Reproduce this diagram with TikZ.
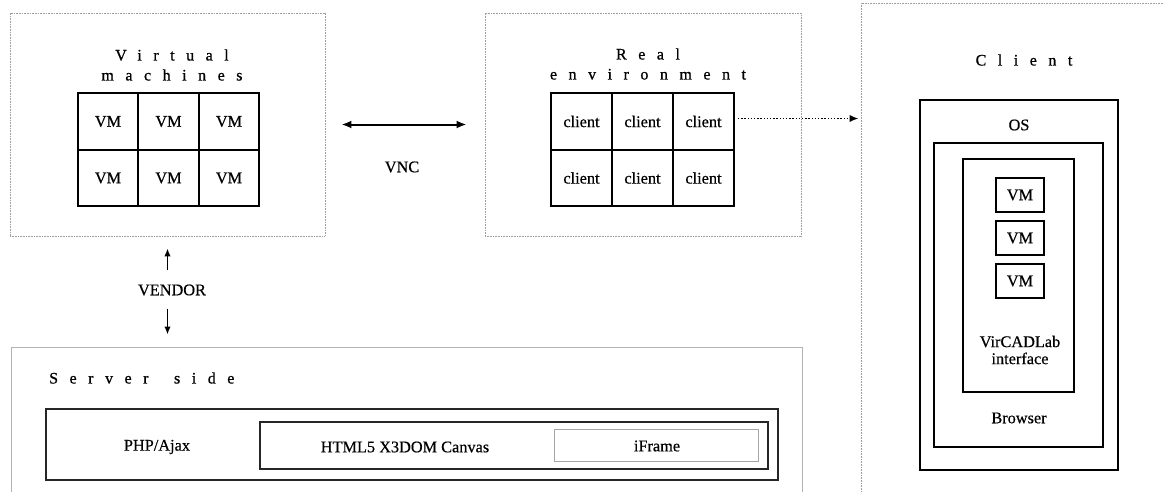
\documentclass[tikz,border=0pt]{standalone}
\usepackage{fontspec}
\setmainfont[FakeBold=0.5]{Liberation Serif}
\newfontfamily\spaced[LetterSpace=72,FakeBold=0.8]{Liberation Serif}
\usetikzlibrary{arrows.meta}
\begin{document}
\begin{tikzpicture}[x=1pt,y=-1pt,
  every node/.style={font=\fontsize{16.3}{19}\selectfont, text=black},
  group/.style={draw=gray!75, line width=0.9pt, dash pattern=on 1pt off 0.6pt, inner sep=0pt},
  cell/.style={draw=black, line width=2pt, inner sep=0pt, minimum width=#1, minimum height=56.5pt},
  cell/.default=60.5pt,
  frame/.style={draw=black, line width=2pt, inner sep=0pt},
  thinframe/.style={draw=black, line width=1.3pt, inner sep=0pt},
  graybox/.style={draw=gray!60, line width=1pt, inner sep=0pt},
  title/.style={font=\fontsize{16}{20}\selectfont\spaced, align=center, inner sep=0pt},
  plain/.style={inner sep=1pt},
  link/.style={line width=2pt, {Latex[length=10pt,width=8pt]}-{Latex[length=10pt,width=8pt]}},
  uparrow/.style={line width=1.5pt, -{Latex[length=8pt,width=6.5pt]}}
]
\useasboundingbox (0,0) rectangle (1163,491);
\clip (0,0) rectangle (1163,491);

% ---- Virtual machines ----
\node[group, minimum width=315pt, minimum height=223pt] (vmbox) at (167.5,124.5) {};
\node[title] (vmtitle) at (172,65) {Virtual\\machines};
\foreach \c/\x in {1/108,2/168.5,3/229}{
  \node[cell] (v1\c) at (\x,121.5) {VM};
  \node[cell] (v2\c) at (\x,178) {VM};
}

% ---- Real environment ----
\node[group, minimum width=316pt, minimum height=223pt] (realbox) at (643,124.5) {};
\node[title] (realtitle) at (648,64) {Real\\environment};
\foreach \c/\x in {1/581.5,2/642.5,3/703.5}{
  \node[cell=61pt] (r1\c) at (\x,121.5) {client};
  \node[cell=61pt] (r2\c) at (\x,178) {client};
}

% VNC link between the two environments
\draw[link, shorten <=16pt, shorten >=18pt] (vmbox) -- (realbox);
\node[plain] (vnc) at (402,167) {VNC};

% ---- Client ----
\node[group, minimum width=340pt, minimum height=560pt] (clientbox) at (1031,283) {};
\node[title] (clienttitle) at (1024,60) {Client};
\node[frame, minimum width=198pt, minimum height=370pt] (os) at (1019,285) {};
\node[plain] (oslabel) at (1019,125) {OS};
\node[frame, minimum width=169pt, minimum height=304pt] (browser) at (1018.5,295) {};
\node[plain] (browserlabel) at (1019,418) {Browser};
\node[frame, minimum width=111pt, minimum height=233pt] (vircad) at (1018.5,275.5) {};
\node[plain, align=center] (vircadlabel) at (1020,350) {VirCADLab\\[-2pt]interface};
\foreach \i/\y in {1/195,2/238,3/281}{
  \node[thinframe, minimum width=48pt, minimum height=34pt] (cvm\i) at (1020,\y) {VM};
}

% dotted link from the real clients to the client side
\coordinate (cin) at (r13.east -| clientbox.west);
\draw[line width=1.8pt, dash pattern=on 1.4pt off 1.8pt, -{Latex[length=9pt,width=7.5pt]},
      shorten <=3pt, shorten >=2pt] ([yshift=3pt]r13.east) -- ([yshift=3pt]cin);

% ---- Server side ----
\node[graybox, minimum width=791pt, minimum height=180pt] (server) at (406.5,437) {};
\node[title, anchor=west] (servertitle) at (49,378) {Server\hspace{10pt} side};
\node[draw=black!85, line width=1.5pt, inner sep=0pt, minimum width=732pt, minimum height=71pt] (serverin) at (412,444.5) {};
\node[plain] (php) at (157,447) {PHP/Ajax};
\node[draw=black!85, line width=1.3pt, inner sep=0pt, minimum width=508pt, minimum height=47pt] (html) at (514,445.5) {};
\node[plain] (htmllabel) at (405,447) {HTML5 X3DOM Canvas};
\node[draw=gray!70, line width=1pt, inner sep=0pt, minimum width=204pt, minimum height=32pt] (iframe) at (656,445) {};
\node[plain] (iframelabel) at (657,446) {iFrame};

% VENDOR link between the virtual machines and the server
\node[plain] (vendor) at (172,290) {VENDOR};
\draw[uparrow, shorten <=13pt, shorten >=12pt] (vmbox.south |- vendor.north) -- (vmbox.south);
\draw[uparrow, shorten <=12pt, shorten >=12pt] (vmbox.south |- vendor.south) -- (vmbox.south |- server.north);
\end{tikzpicture}
\end{document}
